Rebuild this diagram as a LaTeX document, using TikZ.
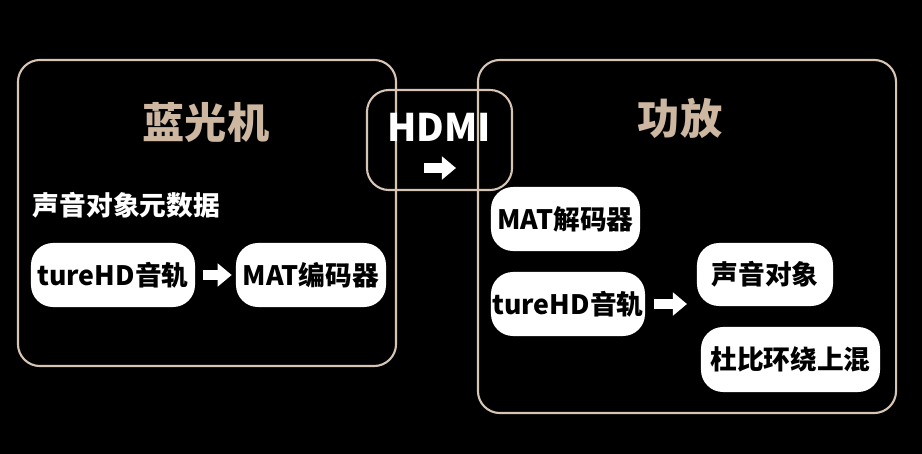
\documentclass[tikz,border=0pt]{standalone}
\usepackage{fontspec}
\newfontfamily\cjk{Noto Sans CJK SC}
\usetikzlibrary{arrows.meta}
\definecolor{gold}{HTML}{D6C5B4}
\definecolor{goldtext}{HTML}{CDB7A0}
\begin{document}
\begin{tikzpicture}[x=0.025cm, y=-0.025cm,
    frame/.style={draw=gold, line width=1.5pt, rounded corners=0.55cm, inner sep=0pt},
    chip/.style={fill=white, rounded corners=0.55cm, text=black, inner sep=0pt,
        font=\cjk\bfseries\fontsize{19}{19}\selectfont},
    title/.style={text=goldtext, font=\cjk\bfseries\fontsize{30}{30}\selectfont},
    arr/.style={draw=white, line width=7pt, -{Triangle[length=10pt, width=16pt]}}]
    \fill[black] (0,0) rectangle (922,454);
    \node[frame, minimum width=9.45cm, minimum height=7.65cm] (player) at (207,213) {};
    \node[frame, minimum width=10.45cm, minimum height=8.825cm] (amp) at (687,236.5) {};
    \node[frame, minimum width=3.625cm, minimum height=2.5cm] (hdmi) at (439.5,140) {};
    \node[title] (playertitle) at (206,123) {蓝光机};
    \node[title] (amptitle) at (680,118) {功放};
    \node[text=white, font=\cjk\bfseries\fontsize{27}{27}\selectfont] (hdmititle) at (439,127) {HDMI};
    \node[anchor=west, text=white, font=\cjk\bfseries\fontsize{19}{19}\selectfont] (meta) at (28,205) {声音对象元数据};
    \node[chip, minimum width=4.1cm, minimum height=1.6cm] (trackL) at (113,275) {tureHD音轨};
    \node[chip, minimum width=3.75cm, minimum height=1.6cm] (encoder) at (311,275) {MAT编码器};
    \node[chip, minimum width=3.725cm, minimum height=1.6cm] (decoder) at (565.5,219) {MAT解码器};
    \node[chip, minimum width=3.85cm, minimum height=1.6cm] (trackR) at (568,304) {tureHD音轨};
    \node[chip, minimum width=3.4cm, minimum height=1.575cm] (objects) at (765,274.5) {声音对象};
    \node[chip, minimum width=4.475cm, minimum height=1.625cm] (upmix) at (790.5,359.5) {杜比环绕上混};
    \coordinate (hdmiin) at (424,168);
    \coordinate (hdmiout) at (456,168);
    \coordinate (split) at (687,304);
    \draw[arr] (hdmiin) -- (hdmiout);
    \draw[arr, shorten <=0.2cm, shorten >=0.1cm] (trackL) -- (encoder);
    \draw[arr, shorten <=0.22cm] (trackR) -- (split);
\end{tikzpicture}
\end{document}
